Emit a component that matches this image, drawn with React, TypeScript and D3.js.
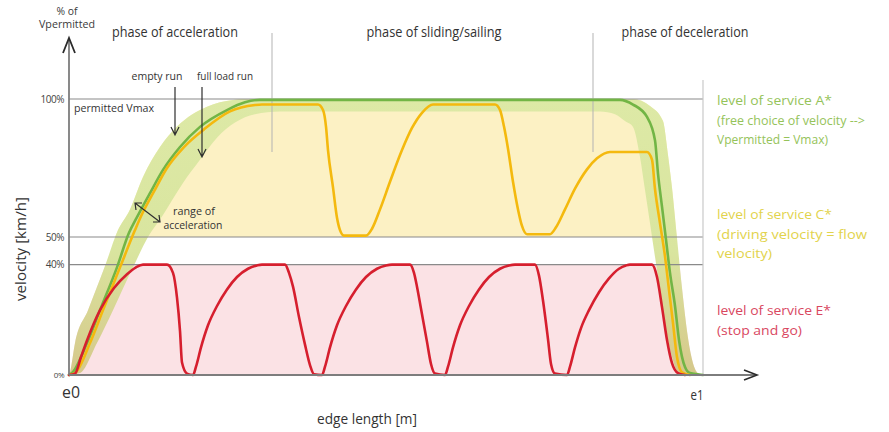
import React, { useEffect, useRef } from 'react'
import * as d3 from 'd3'

// [position along the edge (m), velocity (% of Vpermitted)]
type Pt = [number, number]

const edgeLength = 634
const yTicks = [100, 50, 40, 0]
const levelLines = [100, 50, 40]

const emptyRun: Pt[] = [
  [0, 0], [3, 0.7], [18, 11.6], [31, 23.5], [48, 39], [60, 51.5], [68, 57.2], [81, 65.9], [94, 74.3],
  [111, 82.6], [131, 89.9], [158, 96], [176, 98.8], [191, 99.7], [551, 99.7], [564, 98], [578, 93.5],
  [586, 85], [589, 73], [593, 61], [597, 49], [601, 37], [606, 25], [610, 12.7], [616, 2.9], [621, 0.7], [634, 0],
]

const fullLoadRun: Pt[] = [
  [0, 0], [6, 0.7], [21, 11.6], [34, 23.5], [51, 39], [66, 52.5], [72, 57.5], [85, 66.5], [98, 75],
  [115, 82.6], [135, 89], [161, 95.5], [186, 97.8], [193, 98], [249, 98], [254, 96], [257, 90], [259, 81.5],
  [264, 68], [268, 57], [271, 52.5], [275, 50.5], [297, 50.5], [303, 53], [311, 60], [321, 70], [333, 81.5],
  [343, 89.5], [353, 95], [364, 98], [426, 98], [431, 96], [435, 90], [439, 82], [444, 70], [449, 60],
  [453, 54], [458, 51], [481, 51], [487, 53.5], [496, 60], [506, 67.5], [518, 74.5], [528, 78.5], [541, 80.8],
  [578, 80.8], [583, 78], [586, 67.4], [591, 55], [596, 43], [600, 30.8], [604, 18.8], [608, 6.5], [613, 1], [621, 0],
]

const stopAndGo: Pt[] = [
  [0, 0], [6, 0.5], [12, 6.5], [18, 12.5], [31, 23.5], [45, 31.5], [58, 36.5], [67, 39], [74, 40], [98, 40],
  [104, 37], [108, 28], [111, 16], [113, 4.5], [118, 0.5], [124, 0],
  [127, 3], [132, 10], [139, 18], [148, 25], [158, 31], [168, 35.5], [179, 38.5], [188, 39.7], [193, 40],
  [216, 40], [220, 37], [224, 32], [230, 21], [236, 11], [241, 3.6], [245, 0.3], [253, 0],
  [256, 3], [261, 10], [268, 18], [277, 25], [287, 31], [297, 35.5], [308, 38.5], [317, 39.7], [323, 40],
  [341, 40], [345, 37], [348, 32], [352, 24], [358, 12], [362, 4], [366, 0.5], [376, 0],
  [379, 3], [384, 10], [391, 18], [400, 25], [410, 31], [420, 35.5], [431, 38.5], [440, 39.7], [446, 40],
  [466, 40], [470, 36], [474, 27], [479, 13], [482, 4], [486, 0.5], [498, 0],
  [501, 3], [506, 10], [512, 17], [520, 23.5], [530, 30], [540, 35], [550, 38.5], [557, 39.7], [561, 40],
  [583, 40], [588, 35.5], [593, 24.6], [598, 12.7], [603, 4.3], [609, 0.7], [616, 0],
]

// range of acceleration: outer and inner edge of the band
const rangeUpper: Pt[] = [
  [0, 0], [1, 1], [6, 11.6], [19, 23.5], [36, 39.5], [49, 52.5], [61, 60], [74, 71.7], [91, 82.6], [108, 90],
  [138, 97.2], [164, 99.6], [176, 100], [564, 100], [581, 97.5], [594, 92], [599, 79.7], [603, 67.8],
  [608, 49.6], [613, 31.5], [619, 13.4], [624, 4.3], [629, 0.7], [634, 0],
]
const rangeLower: Pt[] = [
  [0, 0], [11, 0.7], [28, 11.6], [44, 23.5], [64, 39], [79, 50], [94, 58], [114, 69.6], [131, 78], [148, 86],
  [166, 91.5], [186, 94.5], [211, 95.5], [531, 95.5], [546, 94.5], [556, 92], [564, 89.9], [571, 79],
  [576, 67], [581, 55], [586, 42.8], [591, 30.8], [596, 18.8], [603, 6.5], [609, 1], [621, 0], [634, 0],
]

const phaseBounds = [203, 524]
const phaseLabels = ['phase of acceleration', 'phase of sliding/sailing', 'phase of deceleration']
const phaseCenters = [106, 365, 616]

const serviceA = ['level of service A*', '(free choice of velocity -->', 'Vpermitted = Vmax)']
const serviceC = ['level of service C*', '(driving velocity = flow', 'velocity)']
const serviceE = ['level of service E*', '(stop and go)']

const FONT = '"Open Sans", "DejaVu Sans", sans-serif'

const App: React.FC = () => {
  const svgRef = useRef<SVGSVGElement>(null)

  useEffect(() => {
    if (!svgRef.current) return
    const width = 889
    const height = 432

    const x = d3.scaleLinear().domain([0, edgeLength]).range([69, 703])
    const y = d3.scaleLinear().domain([0, 100]).range([375, 99])

    const svg = d3.select(svgRef.current)
    svg.selectAll('*').remove()
    svg.attr('width', width).attr('height', height)

    const defs = svg.append('defs')
    const grad = defs
      .append('linearGradient')
      .attr('id', 'bandGrad')
      .attr('gradientUnits', 'userSpaceOnUse')
      .attr('x1', 0)
      .attr('x2', 0)
      .attr('y1', y(100))
      .attr('y2', y(0))
    const stops: [string, string][] = [
      ['0%', '#dde9a6'],
      ['55%', '#d9e59f'],
      ['75%', '#d8d795'],
      ['100%', '#d5c88b'],
    ]
    stops.forEach(([o, c]) => grad.append('stop').attr('offset', o).attr('stop-color', c))

    defs
      .append('clipPath')
      .attr('id', 'clipC')
      .append('rect')
      .attr('x', 0)
      .attr('width', width)
      .attr('y', y(100) - 3)
      .attr('height', y(50) - y(100) + 3)
    defs
      .append('clipPath')
      .attr('id', 'clipE')
      .append('rect')
      .attr('x', 0)
      .attr('width', width)
      .attr('y', y(40))
      .attr('height', y(0) - y(40))

    const line = d3
      .line<Pt>()
      .x((d) => x(d[0]))
      .y((d) => y(d[1]))
      .curve(d3.curveMonotoneX)
    const area = d3
      .area<Pt>()
      .x((d) => x(d[0]))
      .y0(y(0))
      .y1((d) => y(d[1]))
      .curve(d3.curveMonotoneX)

    // level fills
    svg.append('path').attr('d', area(rangeUpper)).attr('fill', '#fcf1c4').attr('clip-path', 'url(#clipC)')
    svg.append('path').attr('d', area(rangeUpper)).attr('fill', '#fbe2e5').attr('clip-path', 'url(#clipE)')

    // range of acceleration band
    svg
      .append('path')
      .attr('d', (area(rangeUpper) ?? '') + (area(rangeLower) ?? ''))
      .attr('fill', 'url(#bandGrad)')
      .attr('fill-rule', 'evenodd')

    // level lines
    levelLines.forEach((v) => {
      svg
        .append('line')
        .attr('x1', x(0))
        .attr('x2', x(edgeLength))
        .attr('y1', y(v))
        .attr('y2', y(v))
        .attr('stroke', '#8a8a8a')
        .attr('stroke-width', 1.2)
    })
    svg
      .append('line')
      .attr('x1', x(edgeLength))
      .attr('x2', x(edgeLength))
      .attr('y1', 80)
      .attr('y2', y(0))
      .attr('stroke', '#c9c9c9')
      .attr('stroke-width', 1.2)
    phaseBounds.forEach((p) => {
      svg
        .append('line')
        .attr('x1', x(p))
        .attr('x2', x(p))
        .attr('y1', 33)
        .attr('y2', 152)
        .attr('stroke', '#b3b3b3')
        .attr('stroke-width', 1)
    })

    // curves
    const curves: [Pt[], string][] = [
      [emptyRun, '#72b545'],
      [fullLoadRun, '#f4b90e'],
      [stopAndGo, '#d61f2e'],
    ]
    curves.forEach(([data, color]) => {
      svg
        .append('path')
        .attr('d', line(data))
        .attr('fill', 'none')
        .attr('stroke', color)
        .attr('stroke-width', 2.6)
        .attr('stroke-linejoin', 'round')
        .attr('stroke-linecap', 'round')
    })

    // axes
    const axisColor = '#7d7d7d'
    svg.append('line').attr('x1', 69).attr('x2', 69).attr('y1', y(0)).attr('y2', 39).attr('stroke', axisColor).attr('stroke-width', 1.8)
    svg.append('line').attr('x1', 69).attr('x2', 756).attr('y1', y(0)).attr('y2', y(0)).attr('stroke', axisColor).attr('stroke-width', 1.8)
    svg
      .append('path')
      .attr('d', 'M63,53 L69,38 L75,53')
      .attr('fill', 'none')
      .attr('stroke', '#2b2b2b')
      .attr('stroke-width', 1.8)
    svg
      .append('path')
      .attr('d', `M744,${y(0) - 5} L757,${y(0)} L744,${y(0) + 5}`)
      .attr('fill', 'none')
      .attr('stroke', '#2b2b2b')
      .attr('stroke-width', 1.6)

    const yAxis = svg
      .append('g')
      .attr('transform', 'translate(69,0)')
      .call(
        d3
          .axisLeft(y)
          .tickValues(yTicks)
          .tickSize(0)
          .tickPadding(5)
          .tickFormat((d) => `${d}%`),
      )
    yAxis.select('.domain').remove()
    yAxis
      .selectAll('text')
      .attr('fill', '#444')
      .style('font-family', FONT)
      .style('font-size', (d) => ((d as number) === 0 ? '8px' : '10px'))
      .style('letter-spacing', '-0.5px')

    // text helper
    const label = (
      tx: number,
      ty: number,
      str: string,
      size: number,
      len: number,
      color = '#3a3a3a',
      anchor = 'start',
    ) =>
      svg
        .append('text')
        .attr('x', tx)
        .attr('y', ty)
        .attr('fill', color)
        .attr('text-anchor', anchor)
        .attr('textLength', len)
        .attr('lengthAdjust', 'spacingAndGlyphs')
        .style('font-family', FONT)
        .style('font-size', `${size}px`)
        .text(str)

    label(67, 15, '% of', 10.5, 21, '#3a3a3a', 'middle')
    label(67, 28, 'Vpermitted', 10.5, 56, '#3a3a3a', 'middle')

    const phaseWidths = [126, 135, 127]
    phaseLabels.forEach((t, i) => label(x(phaseCenters[i]), 37, t, 14, phaseWidths[i], '#333', 'middle'))

    label(157, 80, 'empty run', 10, 51, '#333', 'middle')
    label(225, 80, 'full load run', 10, 56, '#333', 'middle')
    label(74, 112, 'permitted Vmax', 10, 80, '#333')
    label(194, 215, 'range of', 10, 42, '#333', 'middle')
    label(193, 229, 'acceleration', 10, 59, '#333', 'middle')

    // annotation arrows
    const arrow = (d: string) =>
      svg.append('path').attr('d', d).attr('fill', 'none').attr('stroke', '#2f2f2f').attr('stroke-width', 1.2)
    arrow('M175,87 L175,135 M171,127 L175,135 L179,127')
    arrow('M202,87 L202,157 M198,149 L202,157 L206,149')
    arrow('M135,203 L160,222 M136,210 L135,203 L142,203 M153,222 L160,222 L159,215')

    // axis titles
    label(0, 0, 'velocity [km/h]', 15, 104, '#333', 'middle').attr('transform', 'translate(26,249) rotate(-90)')
    label(71, 398, 'e0', 16, 18, '#333', 'middle')
    label(367, 424, 'edge length [m]', 14, 100, '#333', 'middle')
    label(697, 400, 'e1', 15, 13, '#333', 'middle')

    // level of service legend
    const aW = [115, 148, 111]
    serviceA.forEach((t, i) => label(717, 105 + i * 19.5, t, 13.5, aW[i], '#95c35a'))
    const cW = [115, 150, 55]
    serviceC.forEach((t, i) => label(717, 219 + i * 19.5, t, 13.5, cW[i], '#e2d34c'))
    const eW = [114, 85]
    serviceE.forEach((t, i) => label(717, 315 + i * 20, t, 13.5, eW[i], '#d9475f'))
  }, [])

  return (
    <svg
      ref={svgRef}
      style={{ position: 'absolute', left: 0, top: 0, background: '#fff', display: 'block' }}
    ></svg>
  )
}

export default App
